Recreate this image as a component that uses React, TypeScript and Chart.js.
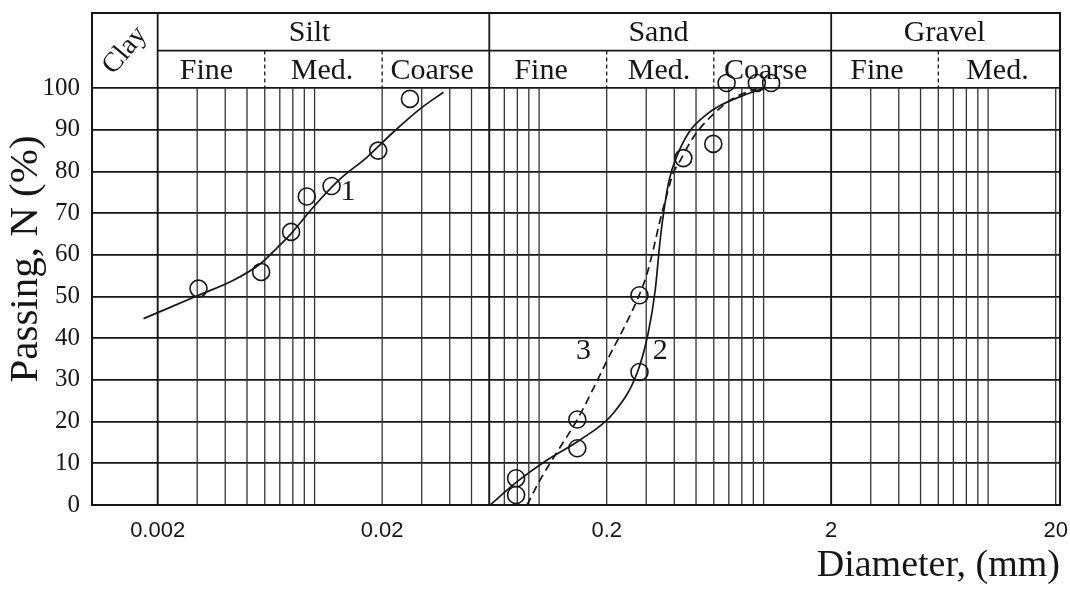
import React, { useEffect, useRef } from 'react';
import { Chart, registerables } from 'chart.js';
Chart.register(...registerables);

// ---- axis / tick data ----
const X_MIN = 0.00102;
const X_MAX = 20.9;
const Y_MIN = 0;
const Y_MAX = 118; // room for classification header above 100 %
const X_TICKS = [0.002, 0.02, 0.2, 2, 20];
const Y_TICKS = [0, 10, 20, 30, 40, 50, 60, 70, 80, 90, 100];
const GRID_DECADES = [0.001, 0.01, 0.1, 1, 10];
const GRID_MULTS = [1, 2, 3, 4, 5, 6, 7, 8, 9];

// ---- soil classes (MIT) ----
const CLASS_BOUNDS = [0.002, 0.06, 2];
const SUB_BOUNDS = [0.006, 0.02, 0.2, 0.6, 6];
const CLASS_NAMES = ['Silt', 'Sand', 'Gravel'];
const CLASS_AT = [0.0095, 0.34, 6.4];
const SUB_NAMES = ['Fine', 'Med.', 'Coarse', 'Fine', 'Med.', 'Coarse', 'Fine', 'Med.'];
const SUB_AT = [0.0033, 0.0108, 0.0334, 0.102, 0.342, 1.02, 3.2, 11];
const HEADER_SPLIT = 109;

// ---- series 1 (silt) ----
const curve1D = [0.00173, 0.00304, 0.00435, 0.00572, 0.00679, 0.00786, 0.0102, 0.013, 0.0171, 0.0224, 0.0295, 0.0375];
const curve1N = [44.7, 50.3, 53.9, 57.8, 61.6, 65.1, 72.3, 78.2, 83.4, 89.4, 95.0, 99.0];
const points1D = [0.00304, 0.00578, 0.00786, 0.00923, 0.0119, 0.0192, 0.0266];
const points1N = [51.9, 55.9, 65.5, 74.0, 76.5, 85.0, 97.4];

// ---- series 2 (sand, solid) ----
const curve2D = [0.0605, 0.0798, 0.1085, 0.152, 0.214, 0.273, 0.306, 0.329, 0.346, 0.36, 0.379, 0.412, 0.471, 0.549, 0.64, 0.827, 1.015];
const curve2N = [0, 5.6, 10.8, 15.6, 22.0, 31.6, 41.2, 51.5, 63.5, 70.7, 77.8, 83.8, 89.8, 93.4, 95.8, 98.4, 100.1];
const points2D = [0.079, 0.148, 0.28, 0.439, 0.684, 0.933];
const points2N = [6.4, 13.6, 31.9, 83.2, 101.2, 101.2];

// ---- series 3 (sand, dashed) ----
const curve3D = [0.0884, 0.101, 0.118, 0.149, 0.201, 0.279, 0.303, 0.322, 0.346, 0.372, 0.395, 0.425, 0.485, 0.578, 0.731, 0.935];
const curve3N = [0, 6.0, 12.0, 20.8, 34.7, 50.3, 55.6, 61.1, 68.3, 74.7, 79.5, 82.6, 88.1, 93.0, 97.5, 99.9];
const points3D = [0.079, 0.148, 0.28, 0.597, 1.08];
const points3N = [2.4, 20.5, 50.3, 86.6, 101.2];

// ---- curve labels ----
const CURVE_LABELS = ['1', '2', '3'];
const CURVE_LABEL_D = [0.0141, 0.346, 0.1575];
const CURVE_LABEL_N = [75, 37, 37];

const SERIF = "'Liberation Serif', 'Times New Roman', serif";
const SANS = "'Liberation Sans', Arial, sans-serif";
const INK = '#161616';

const pts = (xs: number[], ys: number[]) => xs.map((x, i) => ({ x, y: ys[i] }));

const soilPlugin = {
  id: 'soilChart',
  beforeDatasetsDraw(chart: any) {
    const { ctx, chartArea: a, scales } = chart;
    const x = scales.x, y = scales.y;
    const y0 = y.getPixelForValue(0);
    const y100 = y.getPixelForValue(100);
    ctx.save();
    // log grid lines
    ctx.strokeStyle = '#333';
    ctx.lineWidth = 1.3;
    for (const dec of GRID_DECADES) {
      for (const m of GRID_MULTS) {
        const v = dec * m;
        if (v <= X_MIN || v >= X_MAX) continue;
        const px = x.getPixelForValue(v);
        ctx.beginPath();
        ctx.moveTo(px, y100);
        ctx.lineTo(px, y0);
        ctx.stroke();
      }
    }
    // class boundaries (full height)
    ctx.strokeStyle = INK;
    ctx.lineWidth = 1.8;
    for (const b of CLASS_BOUNDS) {
      const px = x.getPixelForValue(b);
      ctx.beginPath();
      ctx.moveTo(px, a.top);
      ctx.lineTo(px, y0);
      ctx.stroke();
    }
    // header split line
    const ys = y.getPixelForValue(HEADER_SPLIT);
    ctx.beginPath();
    ctx.moveTo(x.getPixelForValue(CLASS_BOUNDS[0]), ys);
    ctx.lineTo(a.right, ys);
    ctx.stroke();
    // sub-class boundaries (dashed in lower header row)
    ctx.setLineDash([4, 3]);
    ctx.lineWidth = 1.3;
    for (const b of SUB_BOUNDS) {
      const px = x.getPixelForValue(b);
      ctx.beginPath();
      ctx.moveTo(px, ys);
      ctx.lineTo(px, y100);
      ctx.stroke();
    }
    ctx.setLineDash([]);
    // frame
    ctx.lineWidth = 2;
    ctx.strokeStyle = INK;
    ctx.strokeRect(a.left, a.top, a.right - a.left, a.bottom - a.top);

    // header texts
    ctx.fillStyle = INK;
    ctx.textAlign = 'center';
    ctx.textBaseline = 'middle';
    ctx.font = `30px ${SERIF}`;
    const row1 = (a.top + ys) / 2 + 1;
    const row2 = (ys + y100) / 2 + 2;
    CLASS_NAMES.forEach((t, i) => ctx.fillText(t, x.getPixelForValue(CLASS_AT[i]), row1));
    SUB_NAMES.forEach((t, i) => ctx.fillText(t, x.getPixelForValue(SUB_AT[i]), row2));
    // Clay (rotated)
    const cx = (a.left + x.getPixelForValue(CLASS_BOUNDS[0])) / 2;
    const cy = (a.top + y100) / 2;
    ctx.save();
    ctx.translate(cx, cy);
    ctx.rotate(-Math.PI / 3.6);
    ctx.font = `28px ${SERIF}`;
    ctx.fillText('Clay', 0, 0);
    ctx.restore();
    ctx.restore();
  },
  afterDatasetsDraw(chart: any) {
    const { ctx, scales } = chart;
    ctx.save();
    ctx.fillStyle = INK;
    ctx.font = `30px ${SERIF}`;
    ctx.textAlign = 'center';
    ctx.textBaseline = 'middle';
    CURVE_LABELS.forEach((t, i) => {
      ctx.fillText(t, scales.x.getPixelForValue(CURVE_LABEL_D[i]), scales.y.getPixelForValue(CURVE_LABEL_N[i]));
    });
    ctx.restore();
  },
};

const lineDs = (xs: number[], ys: number[], dash: number[]) => ({
  data: pts(xs, ys),
  showLine: true,
  pointRadius: 0,
  borderColor: INK,
  borderWidth: 1.7,
  borderDash: dash,
  cubicInterpolationMode: 'monotone',
  fill: false,
});

const pointDs = (xs: number[], ys: number[]) => ({
  data: pts(xs, ys),
  showLine: false,
  pointRadius: 8.5,
  pointStyle: 'circle',
  pointBorderColor: INK,
  pointBackgroundColor: 'rgba(255,255,255,0)',
  pointBorderWidth: 1.6,
});

export default function App() {
  const ref = useRef<HTMLCanvasElement>(null);
  useEffect(() => {
    const chart = new Chart(ref.current as HTMLCanvasElement, {
      type: 'scatter',
      data: {
        datasets: [
          lineDs(curve1D, curve1N, []),
          pointDs(points1D, points1N),
          lineDs(curve2D, curve2N, []),
          pointDs(points2D, points2N),
          lineDs(curve3D, curve3N, [8, 5]),
          pointDs(points3D, points3N),
        ] as any,
      },
      options: {
        animation: false,
        responsive: false,
        devicePixelRatio: 1,
        layout: { autoPadding: false, padding: { top: 13, right: 10, left: 0, bottom: 0 } },
        plugins: { legend: { display: false }, tooltip: { enabled: false } },
        scales: {
          x: {
            type: 'logarithmic',
            min: X_MIN,
            max: X_MAX,
            afterBuildTicks: (s: any) => {
              s.ticks = X_TICKS.map((v) => ({ value: v }));
            },
            afterFit: (s: any) => {
              s.height = 84;
              s.paddingLeft = 0;
              s.paddingRight = 0;
              s.paddingTop = 0;
              s.paddingBottom = 0;
            },
            grid: { display: false },
            border: { display: false },
            ticks: {
              autoSkip: false,
              maxRotation: 0,
              padding: 5,
              color: INK,
              font: { family: SANS, size: 22 },
              callback: (v: any) => String(v),
            },
            title: {
              display: true,
              text: 'Diameter, (mm)',
              align: 'end',
              color: INK,
              font: { family: SERIF, size: 38 },
              padding: { top: 0, bottom: 0 },
            },
          },
          y: {
            min: Y_MIN,
            max: Y_MAX,
            afterBuildTicks: (s: any) => {
              s.ticks = Y_TICKS.map((v) => ({ value: v }));
            },
            afterFit: (s: any) => {
              s.width = 92;
              s.paddingLeft = 0;
              s.paddingRight = 0;
              s.paddingTop = 0;
              s.paddingBottom = 0;
            },
            grid: { color: INK, lineWidth: 1.8, drawTicks: false },
            border: { display: false },
            ticks: {
              padding: 12,
              color: INK,
              font: { family: SERIF, size: 25 },
            },
            title: {
              display: true,
              text: 'Passing, N (%)',
              color: INK,
              font: { family: SERIF, size: 41 },
              padding: { top: 2, bottom: 0 },
            },
          },
        },
      } as any,
      plugins: [soilPlugin],
    });
    return () => chart.destroy();
  }, []);
  return (
    <div style={{ position: 'absolute', left: 0, top: 0, width: 1070, height: 589, background: '#fff' }}>
      <canvas ref={ref} width={1070} height={589} style={{ display: 'block' }} />
    </div>
  );
}
